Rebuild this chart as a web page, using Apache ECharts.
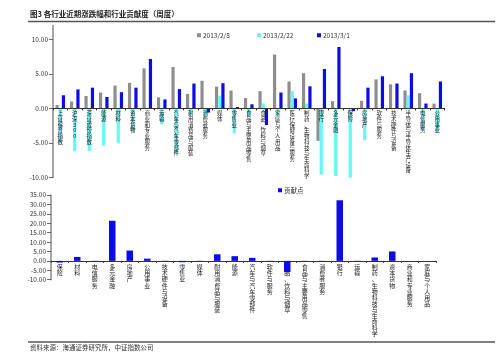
<!DOCTYPE html>
<html><head><meta charset="utf-8">
<script src="https://cdn.jsdelivr.net/npm/echarts@6/dist/echarts.min.js"></script>
<style>html,body{margin:0;padding:0;background:#fff}#c{width:499px;height:360px}</style>
</head><body><div id="c"></div>
<script>
const titleText = '图3 各行业近期涨跌幅和行业贡献度（周度）';
const sourceText = '资料来源：海通证券研究所，中证指数公司';

const cats1 = ['上证综合指数','沪深300','深证成份指数','能源','材料','资本货物','商业和专业服务','运输','汽车与汽车零部件','耐用消费品与服装','消费者服务','媒体','零售业','食品与主要用品零售','食品、饮料与烟草','家庭与个人用品','医疗保健设备与服务','制药、生物科技与生命科学','银行','多元金融','保险','房地产','软件与服务','技术硬件与设备','半导体与半导体生产设备','电信服务','公用事业'];
const seriesNames1 = ['2013/2/8','2013/2/22','2013/3/1'];
const s0208 = [0.5,1.0,1.8,2.3,3.3,3.7,5.8,1.6,6.0,2.1,4.0,3.15,2.6,1.5,2.5,7.8,3.9,5.1,-4.7,1.05,0,1.1,4.2,3.5,2.6,2.2,0.7];
const s0222 = [-5.0,-6.2,-6.2,-5.4,-5.0,-3.3,0,-2.3,-6.5,-1.0,-1.2,1.85,-3.6,-1.0,0.7,-1.0,2.5,0.7,-9.6,-9.8,-10,-4.6,0,0,1.9,-3.2,-3.3];
const s0301 = [1.9,2.75,3.0,1.65,2.35,3.0,7.15,1.3,2.8,3.6,-0.6,3.65,0.2,0.6,-2.4,2.3,1.45,3.2,5.7,8.9,-0.4,3.0,4.65,3.6,5.1,0.7,3.9];
const ticks1 = [-10,-5,0,5,10];
const range1 = [-10,12];

const cats2 = ['保险','材料','电信服务','多元金融','房地产','公用事业','技术硬件与设备','零售业','媒体','耐用消费品与服装','能源','汽车与汽车零部件','软件与服务','食品、饮料与烟草','食品与主要用品零售','消费者服务','银行','运输','制药、生物科技与生命科学','资本货物','商业和专业服务','家庭与个人用品'];
const seriesName2 = '贡献点';
const contrib = [-0.9,2.1,-0.4,21.3,5.5,1.2,0.1,-0.7,0.1,3.5,2.5,1.6,0.1,-6.0,-0.1,-0.4,32.2,0.1,1.8,5.0,0,0];
const range2 = [-10,35];

const colors = ['#8e8e8e','#66f7f7','#0c0ce6'];
const font = '"Noto Sans CJK SC", "Liberation Sans", sans-serif';
const vert = v => String(v).split('').join('\n');

const g1 = {left:53, top:25.5, width:391.5, height:152};
const g2 = {left:51, top:195, width:385, height:84.7};
// distance of the zero line above the grid bottom
const zeroOff1 = g1.height * (0 - range1[0]) / (range1[1] - range1[0]);
const zeroOff2 = g2.height * (0 - range2[0]) / (range2[1] - range2[0]);

const chart = echarts.init(document.getElementById('c'), null, {renderer:'canvas'});
const legendBase = {orient:'horizontal', itemWidth:4, itemHeight:4, itemGap:4, icon:'rect', padding:0,
  textStyle:{fontSize:6.5, color:'#333', fontFamily:font, padding:[0,0,0,-3]}};
chart.setOption({
  animation:false,
  textStyle:{fontFamily:font},
  legend:[
    Object.assign({left:197, top:32, data:[seriesNames1[0]]}, legendBase),
    Object.assign({left:257, top:32, data:[seriesNames1[1]]}, legendBase),
    Object.assign({left:317, top:32, data:[seriesNames1[2]]}, legendBase),
    Object.assign({left:278, top:187, data:[seriesName2]}, legendBase)
  ],
  grid:[Object.assign({containLabel:false}, g1), Object.assign({containLabel:false}, g2)],
  xAxis:[
    {type:'category', gridIndex:0, data:cats1, z:5, offset:-zeroOff1,
     axisLine:{onZero:false, lineStyle:{color:'#333', width:1}},
     axisTick:{show:true, length:2, lineStyle:{color:'#333'}},
     axisLabel:{interval:0, margin:2, fontSize:5.5, lineHeight:5.7, color:'#222', formatter:vert}},
    {type:'category', gridIndex:1, data:cats2, offset:-zeroOff2,
     axisLine:{onZero:false, lineStyle:{color:'#333', width:1}},
     axisTick:{show:true, length:2, lineStyle:{color:'#333'}},
     axisLabel:{interval:0, margin:3, fontSize:6, lineHeight:6.1, color:'#222', formatter:vert}}
  ],
  yAxis:[
    {type:'value', gridIndex:0, min:range1[0], max:range1[1], interval:5,
     axisLine:{show:true, lineStyle:{color:'#888', width:1.5}},
     axisTick:{show:true, inside:false, length:4, lineStyle:{color:'#666'}, customValues:ticks1},
     axisLabel:{fontSize:6.5, color:'#333', margin:5, formatter:v=>v.toFixed(2), customValues:ticks1},
     splitLine:{show:false}},
    {type:'value', gridIndex:1, min:range2[0], max:range2[1], interval:5,
     axisLine:{show:true, lineStyle:{color:'#888', width:1.5}},
     axisTick:{show:true, length:4, lineStyle:{color:'#666'}},
     axisLabel:{fontSize:6.5, color:'#333', margin:5, formatter:v=>v.toFixed(2)},
     splitLine:{show:false}}
  ],
  series:[
    {name:seriesNames1[0], type:'bar', xAxisIndex:0, yAxisIndex:0, data:s0208, barWidth:3.2, barGap:'0%', itemStyle:{color:colors[0]}},
    {name:seriesNames1[1], type:'bar', xAxisIndex:0, yAxisIndex:0, data:s0222, barWidth:3.2, barGap:'0%', itemStyle:{color:colors[1]}},
    {name:seriesNames1[2], type:'bar', xAxisIndex:0, yAxisIndex:0, data:s0301, barWidth:3.2, barGap:'0%', itemStyle:{color:colors[2]}},
    {name:seriesName2, type:'bar', xAxisIndex:1, yAxisIndex:1, data:contrib, barWidth:6.5, itemStyle:{color:colors[2]}}
  ],
  graphic:[
    {type:'text', left:30, top:10, style:{text:titleText, font:'bold 7.5px '+font, fill:'#222'}},
    {type:'line', shape:{x1:28, y1:21.5, x2:495, y2:21.5}, style:{stroke:'#555', lineWidth:1.5}},
    {type:'line', shape:{x1:28, y1:342, x2:495, y2:342}, style:{stroke:'#555', lineWidth:1.5}},
    {type:'text', left:30, top:344, style:{text:sourceText, font:'6.5px '+font, fill:'#333'}}
  ]
});
</script></body></html>
